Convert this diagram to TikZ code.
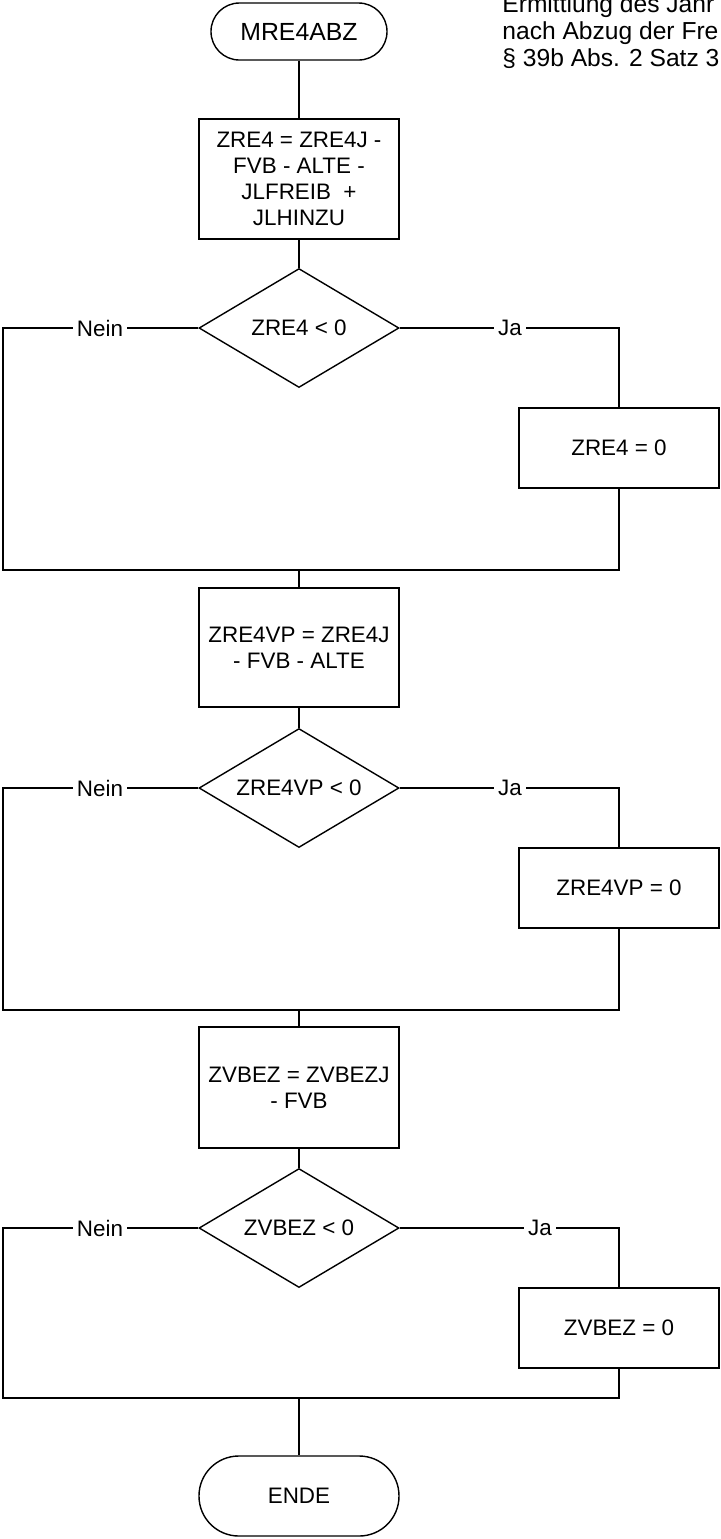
\documentclass[tikz,border=0pt]{standalone}
\usepackage{fontspec}
\setmainfont{Liberation Sans}
\usetikzlibrary{shapes.geometric}
\tikzset{
      procbox/.style={
        draw=black,
        line width=0.75pt,
        minimum width=100pt,
        align=center,
        inner sep=2pt,
        font=\fontsize{11.2}{13}\selectfont
      },
      decision/.style={
        diamond,
        draw=black,
        line width=0.7pt,
        minimum width=100pt,
        minimum height=59.5pt,
        aspect=1.68,
        inner sep=0pt,
        font=\fontsize{11.2}{13}\selectfont
      },
      terminal/.style={
        draw=black,
        line width=0.7pt,
        align=center,
        font=\fontsize{11.2}{13}\selectfont
      },
      branchlabel/.style={
        fill=white,
        inner sep=2pt,
        font=\fontsize{11.2}{13}\selectfont
      },
      flowline/.style={
        line width=0.6pt
      }
    }

\begin{document}
\begin{tikzpicture}[x=0.5pt,y=-0.5pt]
    \useasboundingbox (0,0) rectangle (721,1539);
    \clip (0,0) rectangle (721,1539);
    \node[anchor=north west, inner sep=0pt, align=left, font=\fontsize{12.3}{13.5}\selectfont] (note) at (502,-6) {Ermittlung des Jahr\\nach Abzug der Fre\\§ 39b Abs. 2 Satz 3};
    \node[terminal, minimum width=88pt, minimum height=28.5pt, rounded corners=14.2pt, font=\fontsize{12.4}{14}\selectfont] (start) at (299,31.5) {MRE4ABZ};
    \node[procbox, minimum height=60pt] (b1) at (299,179) {ZRE4 = ZRE4J -\\FVB - ALTE -\\JLFREIB~ +\\JLHINZU};
    \node[decision] (d1) at (299,328) {ZRE4 < 0};
    \node[procbox, minimum height=40pt] (z1) at (619,448) {ZRE4 = 0};
    \coordinate (m1) at (299,570);
    \node[procbox, minimum height=59.5pt] (b2) at (299,647.5) {ZRE4VP = ZRE4J\\- FVB - ALTE};
    \node[decision] (d2) at (299,788) {ZRE4VP < 0};
    \node[procbox, minimum height=40pt] (z2) at (619,888) {ZRE4VP = 0};
    \coordinate (m2) at (299,1010);
    \node[procbox, minimum height=60.5pt] (b3) at (299,1087.5) {ZVBEZ = ZVBEZJ\\- FVB};
    \node[decision] (d3) at (299,1228) {ZVBEZ < 0};
    \node[procbox, minimum height=40pt] (z3) at (619,1328) {ZVBEZ = 0};
    \coordinate (m3) at (299,1398);
    \node[terminal, minimum width=100pt, minimum height=40pt, rounded corners=19.9pt] (ende) at (299,1496) {ENDE};
    % branch labels and rail corners
    \node[branchlabel] (nein1) at (100,328) {Nein};
    \node[branchlabel] (ja1) at (510,328) {Ja};
    \node[branchlabel] (nein2) at (100,788) {Nein};
    \node[branchlabel] (ja2) at (510,788) {Ja};
    \node[branchlabel] (nein3) at (100,1228) {Nein};
    \node[branchlabel] (ja3) at (540,1228) {Ja};
    \coordinate (l1) at (3,328);
    \coordinate (l2) at (3,788);
    \coordinate (l3) at (3,1228);
    \draw[flowline] (start.south) -- (b1.north);
    \draw[flowline] (b1.south) -- (d1.north);
    \draw[flowline] (d1.west) -- (nein1) -- (l1) |- (m1);
    \draw[flowline] (d1.east) -- (ja1) -| (z1.north);
    \draw[flowline] (z1.south) |- (m1);
    \draw[flowline] (m1) -- (b2.north);
    \draw[flowline] (b2.south) -- (d2.north);
    \draw[flowline] (d2.west) -- (nein2) -- (l2) |- (m2);
    \draw[flowline] (d2.east) -- (ja2) -| (z2.north);
    \draw[flowline] (z2.south) |- (m2);
    \draw[flowline] (m2) -- (b3.north);
    \draw[flowline] (b3.south) -- (d3.north);
    \draw[flowline] (d3.west) -- (nein3) -- (l3) |- (m3);
    \draw[flowline] (d3.east) -- (ja3) -| (z3.north);
    \draw[flowline] (z3.south) |- (m3);
    \draw[flowline] (m3) -- (ende.north);
\end{tikzpicture}
\end{document}
